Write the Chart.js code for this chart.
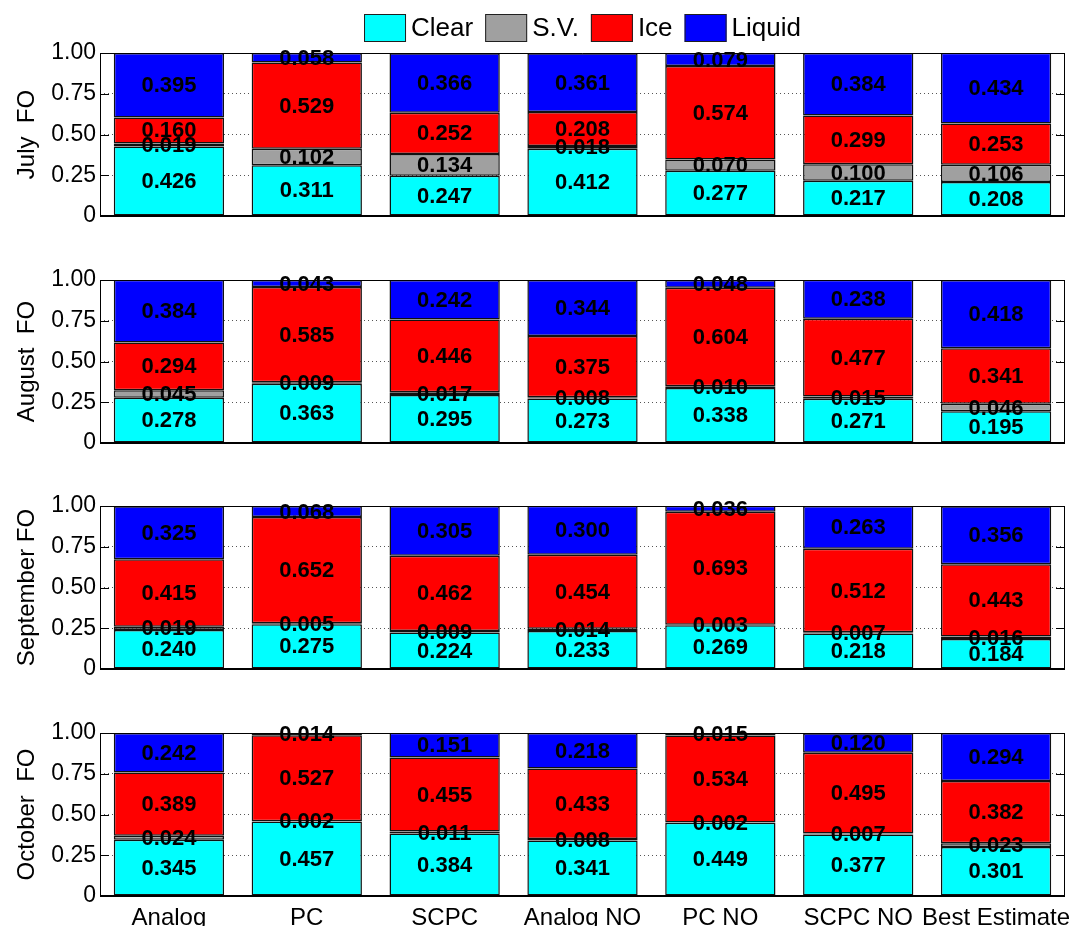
<!DOCTYPE html>
<html>
<head>
<meta charset="utf-8">
<script src="https://cdn.jsdelivr.net/npm/chart.js@4.4.1/dist/chart.umd.min.js"></script>
<style>
  html, body { margin: 0; padding: 0; background: #ffffff; }
  #wrap { position: relative; width: 1075px; height: 926px; overflow: hidden; }
  #wrap canvas { position: absolute; left: 0; top: 0; }
</style>
</head>
<body>
<div id="wrap">
  <canvas id="c0" width="1075" height="926"></canvas>
  <canvas id="c1" width="1075" height="926"></canvas>
  <canvas id="c2" width="1075" height="926"></canvas>
  <canvas id="c3" width="1075" height="926"></canvas>
</div>
<script>
// Retrieval methods (x categories) and cloud-phase classes (stack order, bottom to top)
const methods = ['Analog', 'PC', 'SCPC', 'Analog NO', 'PC NO', 'SCPC NO', 'Best Estimate'];
const seriesNames = ['Clear', 'S.V.', 'Ice', 'Liquid'];
const monthTitles = ['July  FO', 'August  FO', 'September FO', 'October  FO'];
const yTickValues = [0, 0.25, 0.5, 0.75, 1];
const yTickLabels = ['0', '0.25', '0.50', '0.75', '1.00'];

// Frequency of occurrence, July
const julyClear  = [0.426, 0.311, 0.247, 0.412, 0.277, 0.217, 0.208];
const julySV     = [0.019, 0.102, 0.134, 0.018, 0.070, 0.100, 0.106];
const julyIce    = [0.160, 0.529, 0.252, 0.208, 0.574, 0.299, 0.253];
const julyLiquid = [0.395, 0.058, 0.366, 0.361, 0.079, 0.384, 0.434];

// August
const augClear  = [0.278, 0.363, 0.295, 0.273, 0.338, 0.271, 0.195];
const augSV     = [0.045, 0.009, 0.017, 0.008, 0.010, 0.015, 0.046];
const augIce    = [0.294, 0.585, 0.446, 0.375, 0.604, 0.477, 0.341];
const augLiquid = [0.384, 0.043, 0.242, 0.344, 0.048, 0.238, 0.418];

// September
const sepClear  = [0.240, 0.275, 0.224, 0.233, 0.269, 0.218, 0.184];
const sepSV     = [0.019, 0.005, 0.009, 0.014, 0.003, 0.007, 0.016];
const sepIce    = [0.415, 0.652, 0.462, 0.454, 0.693, 0.512, 0.443];
const sepLiquid = [0.325, 0.068, 0.305, 0.300, 0.036, 0.263, 0.356];

// October
const octClear  = [0.345, 0.457, 0.384, 0.341, 0.449, 0.377, 0.301];
const octSV     = [0.024, 0.002, 0.011, 0.008, 0.002, 0.007, 0.023];
const octIce    = [0.389, 0.527, 0.455, 0.433, 0.534, 0.495, 0.382];
const octLiquid = [0.242, 0.014, 0.151, 0.218, 0.015, 0.120, 0.294];

const monthData = [
  [julyClear, julySV, julyIce, julyLiquid],
  [augClear, augSV, augIce, augLiquid],
  [sepClear, sepSV, sepIce, sepLiquid],
  [octClear, octSV, octIce, octLiquid]
];

const seriesColors = ['#00FFFF', '#A0A0A0', '#FF0000', '#0000FF'];
const FONT = '"Liberation Sans", Arial, Helvetica, sans-serif';
Chart.defaults.font.family = FONT;
Chart.defaults.color = '#000000';

// Panel placement on the page
const PAGE_H = 926;
const panelTops = [53, 280, 506, 733];
const panelHeight = 163;
const rightPad = 10;

// Box around the plot area with inward tick marks on both sides
const framePlugin = {
  id: 'frame',
  afterDatasetsDraw(chart) {
    const { ctx, chartArea: a } = chart;
    const yScale = chart.scales.y;
    ctx.save();
    ctx.strokeStyle = '#000000';
    ctx.lineWidth = 1;
    ctx.beginPath();
    ctx.moveTo(a.left + 0.5, a.bottom);
    ctx.lineTo(a.left + 0.5, a.top + 0.5);
    ctx.lineTo(a.right - 0.5, a.top + 0.5);
    ctx.lineTo(a.right - 0.5, a.bottom);
    ctx.stroke();
    ctx.lineWidth = 2;
    ctx.beginPath();
    ctx.moveTo(a.left, a.bottom);
    ctx.lineTo(a.right, a.bottom);
    ctx.stroke();
    ctx.lineWidth = 1;
    yScale.ticks.forEach(t => {
      const py = Math.round(yScale.getPixelForValue(t.value)) + 0.5;
      ctx.beginPath();
      ctx.moveTo(a.left, py);
      ctx.lineTo(a.left + 9, py);
      ctx.moveTo(a.right, py);
      ctx.lineTo(a.right - 9, py);
      ctx.stroke();
    });
    ctx.restore();
  }
};

// Value printed in the middle of each stacked segment
const valueLabelPlugin = {
  id: 'valueLabels',
  afterDatasetsDraw(chart) {
    const { ctx } = chart;
    ctx.save();
    ctx.font = 'bold 22px ' + FONT;
    ctx.fillStyle = '#000000';
    ctx.textAlign = 'center';
    ctx.textBaseline = 'middle';
    chart.data.datasets.forEach((ds, di) => {
      const meta = chart.getDatasetMeta(di);
      meta.data.forEach((el, i) => {
        const v = ds.data[i];
        const cy = (el.y + el.base) / 2;
        ctx.fillText(v.toFixed(3), el.x, cy + 1);
      });
    });
    ctx.restore();
  }
};

// Horizontal legend centred above the top panel
const legendPlugin = {
  id: 'topLegend',
  afterDraw(chart) {
    const { ctx, chartArea: a } = chart;
    const boxW = 42, boxH = 28, textGap = 5, itemGap = 12, boxTop = 14;
    ctx.save();
    ctx.font = '26px ' + FONT;
    const widths = seriesNames.map(n => ctx.measureText(n).width);
    let total = 0;
    widths.forEach((w, i) => { total += boxW + textGap + w + (i < widths.length - 1 ? itemGap : 0); });
    let x = (a.left + a.right) / 2 - total / 2;
    seriesNames.forEach((name, i) => {
      ctx.fillStyle = seriesColors[i];
      ctx.fillRect(x, boxTop, boxW, boxH);
      ctx.strokeStyle = '#202020';
      ctx.lineWidth = 1;
      ctx.strokeRect(x + 0.5, boxTop + 0.5, boxW - 1, boxH - 1);
      ctx.fillStyle = '#000000';
      ctx.textAlign = 'left';
      ctx.textBaseline = 'middle';
      ctx.fillText(name, x + boxW + textGap, boxTop + boxH / 2 + 1);
      x += boxW + textGap + widths[i] + itemGap;
    });
    ctx.restore();
  }
};

monthData.forEach((series, p) => {
  const isLast = p === monthData.length - 1;
  const xAxisHeight = isLast ? 30 : 0;
  const top = panelTops[p];
  const bottomPad = PAGE_H - top - panelHeight - xAxisHeight;
  const plugins = [framePlugin, valueLabelPlugin];
  if (p === 0) plugins.push(legendPlugin);

  new Chart(document.getElementById('c' + p), {
    type: 'bar',
    data: {
      labels: methods,
      datasets: seriesNames.map((name, k) => ({
        label: name,
        data: series[k],
        backgroundColor: seriesColors[k],
        borderColor: '#111111',
        borderWidth: 1.5,
        borderSkipped: false,
        barPercentage: 0.8,
        categoryPercentage: 1.0
      }))
    },
    options: {
      responsive: false,
      animation: false,
      devicePixelRatio: 1,
      layout: { padding: { top: top, bottom: bottomPad, left: 0, right: rightPad } },
      plugins: { legend: { display: false }, tooltip: { enabled: false } },
      scales: {
        x: {
          stacked: true,
          grid: { display: false },
          border: { display: false },
          ticks: {
            display: isLast,
            autoSkip: false,
            maxRotation: 0,
            padding: 0,
            color: '#000000',
            font: { size: 24 }
          },
          afterFit(scale) { scale.height = xAxisHeight; }
        },
        y: {
          stacked: true,
          min: 0,
          max: 1,
          afterBuildTicks(scale) { scale.ticks = yTickValues.map(v => ({ value: v })); },
          ticks: {
            callback: (value, index) => yTickLabels[index],
            padding: 4,
            color: '#000000',
            font: { size: 23 }
          },
          grid: {
            drawTicks: false,
            lineWidth: 1,
            color: c => (c.tick && (c.tick.value === 0 || c.tick.value === 1)) ? 'rgba(0,0,0,0)' : '#555555'
          },
          border: { display: false, dash: [1, 3] },
          title: {
            display: true,
            text: monthTitles[p],
            color: '#000000',
            font: { size: 24 },
            padding: { top: 13, bottom: 0 }
          },
          afterFit(scale) { scale.width = 100; }
        }
      }
    },
    plugins: plugins
  });
});
</script>
</body>
</html>
